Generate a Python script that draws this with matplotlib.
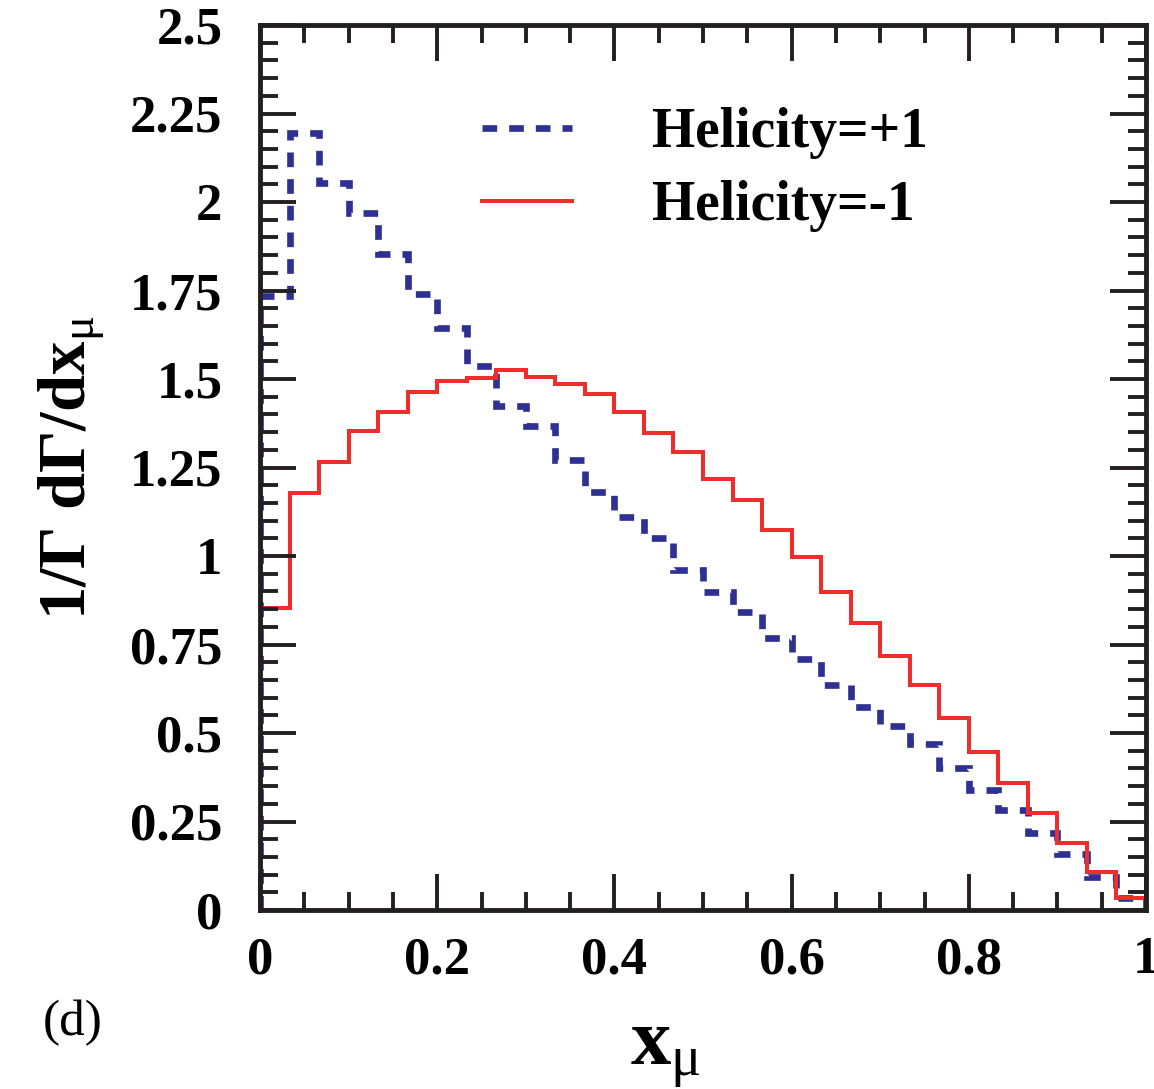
import numpy as np
import matplotlib
matplotlib.use("Agg")
import matplotlib.pyplot as plt
from matplotlib.ticker import MultipleLocator, FuncFormatter

# normalised x_mu spectra, 30 bins on [0, 1]
bin_edges = np.linspace(0.0, 1.0, 31)
helicity_plus = [1.735, 2.196, 2.053, 1.968, 1.853, 1.739, 1.643, 1.538, 1.425, 1.368,
                 1.271, 1.182, 1.111, 1.052, 0.960, 0.897, 0.843, 0.767, 0.708, 0.636,
                 0.574, 0.521, 0.468, 0.400, 0.339, 0.282, 0.218, 0.158, 0.092, 0.033]
helicity_minus = [0.853, 1.177, 1.265, 1.353, 1.408, 1.464, 1.493, 1.502, 1.525, 1.506,
                  1.486, 1.458, 1.408, 1.348, 1.293, 1.217, 1.157, 1.073, 0.997, 0.897,
                  0.812, 0.718, 0.635, 0.543, 0.447, 0.360, 0.275, 0.188, 0.108, 0.033]
labels = ["Helicity=+1", "Helicity=-1"]

plt.rcParams['font.family'] = ['Liberation Serif', 'DejaVu Serif']
plt.rcParams['font.weight'] = 'bold'
plt.rcParams['mathtext.fontset'] = 'custom'
plt.rcParams['mathtext.rm'] = 'Liberation Serif:normal'
plt.rcParams['mathtext.bf'] = 'Liberation Serif:bold'
plt.rcParams['mathtext.it'] = 'Liberation Serif:italic:normal'

W, H = 1154, 1089
fig = plt.figure(figsize=(W / 100, H / 100), dpi=100)
ax = fig.add_axes([260 / W, (H - 910) / H, 886 / W, 885 / H])

blue = '#2e3192'
red = '#ee2d2d'
frame = '#231f20'

h_plus = ax.stairs(helicity_plus, bin_edges, baseline=0, color=blue, linewidth=4.8,
                   linestyle=(0, (2.2, 1.8)), label=labels[0])
h_minus = ax.stairs(helicity_minus, bin_edges, baseline=0, color=red, linewidth=2.9,
                    label=labels[1])

ax.set_xlim(0, 1)
ax.set_ylim(0, 2.5)

ax.xaxis.set_major_locator(MultipleLocator(0.2))
ax.xaxis.set_minor_locator(MultipleLocator(0.05))
ax.yaxis.set_major_locator(MultipleLocator(0.25))
ax.yaxis.set_minor_locator(MultipleLocator(0.05))
fmt = FuncFormatter(lambda v, pos: "%g" % round(v, 3))
ax.xaxis.set_major_formatter(fmt)
ax.yaxis.set_major_formatter(fmt)

ax.tick_params(which='both', direction='in', top=True, right=True, width=2.8,
               color=frame, labelsize=38)
ax.tick_params(which='major', length=26)
ax.tick_params(which='minor', length=13)
ax.tick_params(axis='x', pad=19)
ax.tick_params(axis='y', pad=27)
for sp in ax.spines.values():
    sp.set_linewidth(3.5)
    sp.set_color(frame)

ax.set_xlabel(r'$\mathbf{x}_{\mathrm{μ}}$', fontsize=58)
ax.xaxis.set_label_coords(0.458, -0.121)
ax.set_ylabel(r'$\mathbf{1/Γ\ dΓ/dx}_{\mathrm{μ}}$', fontsize=48)
ax.yaxis.set_label_coords(-0.173, 0.5)

ax.legend(handles=[h_plus, h_minus], labels=labels, loc='upper left',
          bbox_to_anchor=(0.2506, 0.907), frameon=False, fontsize=40,
          handlelength=1.62, handletextpad=1.44, labelspacing=0.38,
          borderpad=0, borderaxespad=0)

fig.text(43 / W, (H - 1023) / H, "(d)", fontsize=37, fontweight='normal',
         ha='left', va='center')

fig.savefig("out.png", dpi=100)
